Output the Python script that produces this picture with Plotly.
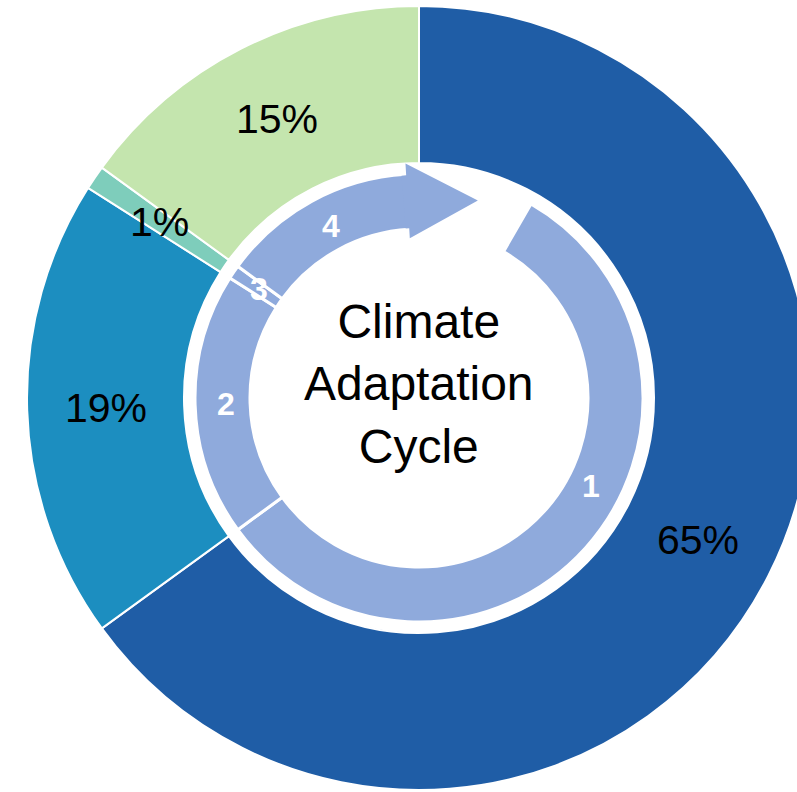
import math
import plotly.graph_objects as go

# ---------------- data ----------------
stages = ["1", "2", "3", "4"]
shares = [65, 19, 1, 15]
share_labels = ["65%", "19%", "1%", "15%"]
center_title = "Climate<br>Adaptation<br>Cycle"

# ---------------- styles ----------------
slice_colors = ["#1F5DA6", "#1C8EC0", "#7ECDBB", "#C4E5AE"]
ring_color = "#8FAADC"
W, H = 838, 792
CX, CY = 419, 398            # pixel centre (from top-left)
R_OUT, R_HOLE = 392, 235
RING_OUT, RING_IN = 224, 169
TAIL_GAP_DEG = 30.0          # where arrow 1 starts
HEAD_BASE_DEG = 3.3          # arrow 4 body stops this much before 12 o'clock
HEAD_TIP_DEG = 16.6
HEAD_R_OUT, HEAD_R_IN, HEAD_R_TIP = 235, 160, 206
FONT = "Liberation Sans, Arial, sans-serif"


def paper(x, y):
    return x / W, 1 - y / H


def polar(r, deg):
    a = math.radians(deg)
    return CX + r * math.sin(a), CY - r * math.cos(a)


def dom(r):
    x0, y0 = paper(CX - r, CY + r)
    x1, y1 = paper(CX + r, CY - r)
    return dict(x=[x0, x1], y=[y0, y1])


total = sum(shares)
deg_per = 360.0 / total

fig = go.Figure()

# outer donut
fig.add_trace(go.Pie(
    values=shares, labels=share_labels, sort=False, direction="clockwise",
    rotation=0, hole=R_HOLE / R_OUT, domain=dom(R_OUT),
    marker=dict(colors=slice_colors, line=dict(color="white", width=2)),
    textinfo="none", hoverinfo="skip", showlegend=False,
))

# inner arrow ring
ring_vals = list(shares)
ring_vals[0] -= TAIL_GAP_DEG / deg_per
ring_vals[-1] -= HEAD_BASE_DEG / deg_per
ring_vals.append((TAIL_GAP_DEG + HEAD_BASE_DEG) / deg_per)
ring_labels = stages + ["gap"]
fig.add_trace(go.Pie(
    values=ring_vals, labels=ring_labels, sort=False, direction="clockwise",
    rotation=TAIL_GAP_DEG, hole=RING_IN / RING_OUT, domain=dom(RING_OUT),
    marker=dict(colors=[ring_color] * len(stages) + ["rgba(0,0,0,0)"],
                line=dict(color="white", width=[3] * len(stages) + [0])),
    textinfo="none", hoverinfo="skip", showlegend=False,
))

# arrow head on stage 4 (pointing into the gap)
base = 360.0 - HEAD_BASE_DEG
pts = [
    polar(HEAD_R_OUT, base),
    polar(HEAD_R_TIP, 360.0 + HEAD_TIP_DEG),
    polar(HEAD_R_IN, base),
    polar(RING_IN + 1, base),
    polar(RING_IN + 1, base - 1.2),
    polar(RING_OUT - 1, base - 1.2),
    polar(RING_OUT - 1, base),
]
ppts = [paper(x, y) for x, y in pts]
path = "M " + " L ".join(f"{px:.5f},{py:.5f}" for px, py in ppts) + " Z"
fig.add_shape(type="path", path=path, xref="paper", yref="paper",
              fillcolor=ring_color, line=dict(width=0), layer="above")

# labels
cum = 0.0
annotations = []
for i, v in enumerate(shares):
    mid = (cum + v / 2) * deg_per
    cum += v
    x, y = polar((R_OUT + R_HOLE) / 2, mid)
    px, py = paper(x, y)
    annotations.append(dict(x=px, y=py, xref="paper", yref="paper",
                            xanchor="center", yanchor="middle",
                            text=share_labels[i], showarrow=False,
                            font=dict(family=FONT, size=41, color="black")))
    x, y = polar((RING_OUT + RING_IN) / 2 - 3, mid)
    px, py = paper(x, y)
    annotations.append(dict(x=px, y=py, xref="paper", yref="paper",
                            xanchor="center", yanchor="middle",
                            text=f"<b>{stages[i]}</b>", showarrow=False,
                            font=dict(family=FONT, size=32, color="white")))

px, py = paper(CX, CY - 14)
annotations.append(dict(x=px, y=py, xref="paper", yref="paper",
                        xanchor="center", yanchor="middle",
                        text=center_title, showarrow=False,
                        font=dict(family=FONT, size=48, color="black")))

fig.update_layout(
    width=W, height=H, margin=dict(l=0, r=0, t=0, b=0),
    paper_bgcolor="white", plot_bgcolor="white",
    annotations=annotations, showlegend=False,
)

fig.write_html(
    "out.html",
    config={"displayModeBar": False},
    post_script="document.body.style.margin='0';"
                "document.body.style.overflow='hidden';"
                "document.documentElement.style.overflow='hidden';",
)
